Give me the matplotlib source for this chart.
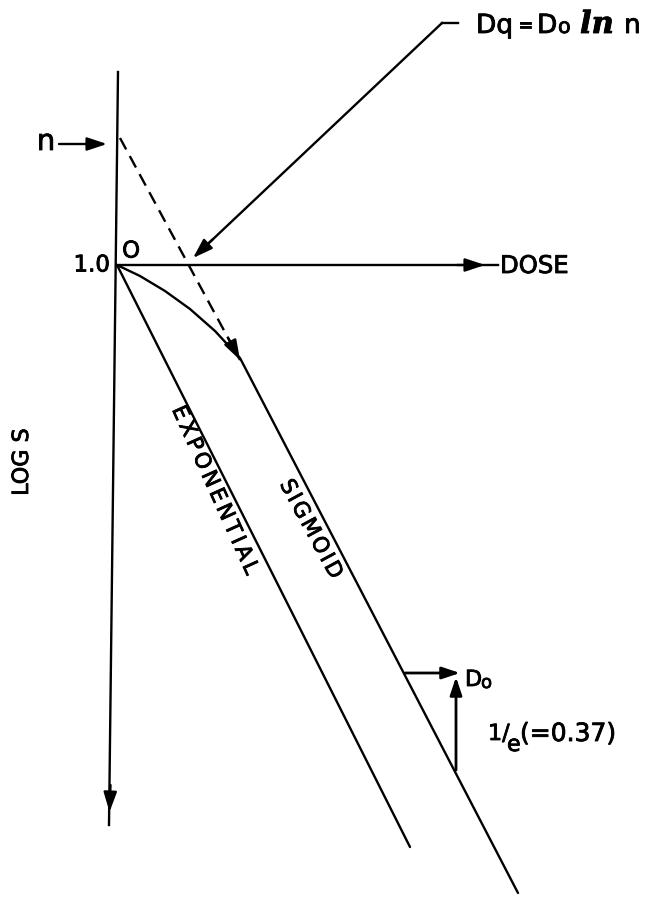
import numpy as np
import matplotlib.pyplot as plt
import matplotlib.patheffects as pe
from matplotlib.font_manager import FontProperties
from matplotlib.textpath import TextToPath

# survival curve sketch: dose (arbitrary units) against log surviving fraction
exp_dose = [0.0, 2.93]
exp_logs = [0.0, -5.82]

# sigmoid curve: shoulder, then the straight terminal part
sig_dose = [0.0, 0.23, 0.48, 0.73, 0.98, 1.23, 4.01]
sig_logs = [0.0, -0.11, -0.26, -0.44, -0.66, -0.93, -6.28]

# terminal slope extrapolated back to the log S axis (intercept n)
extrap_dose = [0.03, 1.23]
extrap_logs = [1.27, -0.95]
n_level = 1.21

# quasi-threshold dose: extrapolated line crossing the 1.0 level
dq_dose = 0.76

# D0 step drawn on the terminal slope
d0_dose = [2.88, 3.42]
d0_logs = [-4.08, -5.05]

FONT = 'DejaVu Sans'
LW = 1.7
INK = [pe.withStroke(linewidth=0.6, foreground='k')]


def arrow(ax, tip, tail, lw=LW, scale=20):
    ax.annotate('', xy=tip, xytext=tail,
                arrowprops=dict(arrowstyle='-|>,head_length=0.6,head_width=0.2',
                                lw=lw, color='k', shrinkA=0, shrinkB=0,
                                mutation_scale=scale))


def label(ax, x, y, s, size, **kw):
    kw.setdefault('family', FONT)
    return ax.text(x, y, s, fontsize=size, path_effects=INK, **kw)


def spaced(ax, s, start, end, size):
    # lettering spread along a slanted line, wider than the font's own spacing
    prop = FontProperties(family=FONT, size=size)
    ttp = TextToPath()
    w = [ttp.get_text_width_height_descent(ch, prop, ismath=False)[0] / 72.0
         for ch in s]  # inches == data units (100 px per unit at 100 dpi)
    (x0, y0), (x1, y1) = start, end
    span = np.hypot(x1 - x0, y1 - y0)
    inner = sum(w) - w[0] / 2 - w[-1] / 2
    gap = (span - inner) / (len(s) - 1)
    ang = np.degrees(np.arctan2(y1 - y0, x1 - x0))
    pos = 0.0
    for i, ch in enumerate(s):
        if i > 0:
            pos += w[i - 1] / 2 + gap + w[i] / 2
        t = pos / span
        label(ax, x0 + t * (x1 - x0), y0 + t * (y1 - y0), ch, size,
              rotation=ang, rotation_mode='anchor', ha='center', va='center')


fig = plt.figure(figsize=(6.46, 8.97), dpi=100)
ax = fig.add_axes([0, 0, 1, 1])
ax.set_xlim(-1.17, 5.29)
ax.set_ylim(-6.32, 2.65)
ax.axis('off')

# axes of the sketch
ax.plot([0.0, 3.81], [0.0, 0.0], color='k', lw=LW)
arrow(ax, (3.68, 0.0), (3.40, 0.0))
ax.plot([0.01, -0.08], [1.93, -5.60], color='k', lw=LW)
arrow(ax, (-0.075, -5.47), (-0.065, -5.20))

# curves
ax.plot(exp_dose, exp_logs, color='k', lw=LW, solid_capstyle='round')
ax.plot(sig_dose, sig_logs, color='k', lw=LW, solid_capstyle='round',
        solid_joinstyle='round')
ax.plot(extrap_dose, extrap_logs, color='k', lw=LW, ls=(0, (5.5, 3.2)))
slope = (extrap_logs[1] - extrap_logs[0]) / (extrap_dose[1] - extrap_dose[0])
arrow(ax, (extrap_dose[1], extrap_logs[1]),
      (extrap_dose[1] - 0.12, extrap_logs[1] - 0.12 * slope))

# n marker
arrow(ax, (-0.10, n_level), (-0.58, n_level))
label(ax, -0.71, n_level + 0.02, 'n', 21, ha='center', va='center')

# Dq leader and formula
lead = 235 / 249
ax.plot([3.41, 3.25], [2.42, 2.42], color='k', lw=LW)
ax.plot([3.25, dq_dose + 0.1], [2.42, 0.07 + 0.1 * lead], color='k', lw=LW)
arrow(ax, (dq_dose, 0.07), (dq_dose + 0.2, 0.07 + 0.2 * lead))
label(ax, 3.59, 2.32, 'Dq', 19, va='baseline')
label(ax, 4.01, 2.34, '=', 13, va='baseline', fontweight='bold')
label(ax, 4.20, 2.32, 'D', 19, va='baseline')
label(ax, 4.41, 2.32, 'o', 15, va='baseline')
label(ax, 4.63, 2.32, 'ln', 22, family='DejaVu Serif', style='italic',
      fontweight='bold', va='baseline')
label(ax, 5.07, 2.32, 'n', 19, va='baseline')

# D0 step
arrow(ax, (d0_dose[1] + 0.01, d0_logs[0]), (d0_dose[0], d0_logs[0]), lw=2.0, scale=18)
arrow(ax, (d0_dose[1] - 0.03, d0_logs[0] - 0.04), (d0_dose[1] - 0.03, d0_logs[1]),
      lw=2.0, scale=18)
label(ax, 3.48, -4.21, 'D', 16, va='baseline')
label(ax, 3.64, -4.23, 'o', 13, va='baseline')
label(ax, 3.71, -4.75, '1/', 16, va='baseline')
label(ax, 3.90, -4.86, 'e', 16, va='baseline')
label(ax, 4.03, -4.76, '(=0.37)', 18, va='baseline')

# axis labels
label(ax, -0.07, 0.0, '1.0', 16.5, ha='right', va='center')
label(ax, 0.14, 0.14, 'O', 16.5, ha='center', va='center')
label(ax, 3.83, -0.01, 'DOSE', 17.5, ha='left', va='center')
label(ax, -0.95, -1.97, 'LOG S', 16, rotation=90, ha='center', va='center')

# curve names along the lines
spaced(ax, 'EXPONENTIAL', (0.63, -1.48), (1.33, -3.03), 15.5)
spaced(ax, 'SIGMOID', (1.71, -2.22), (2.16, -3.05), 15.5)

fig.savefig('out.png', dpi=100, facecolor='white')
